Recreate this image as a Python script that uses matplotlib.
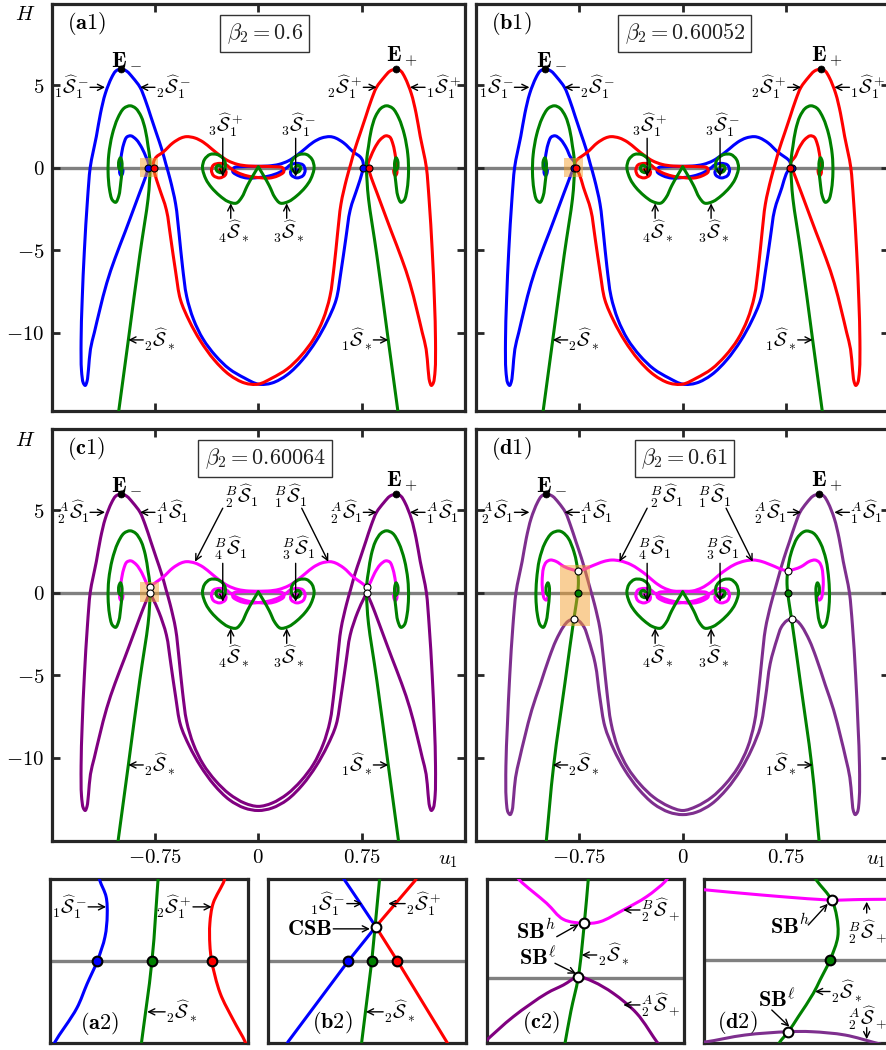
import matplotlib
matplotlib.use("Agg")
import matplotlib.pyplot as plt
from matplotlib.patches import Rectangle, PathPatch
from matplotlib.path import Path

plt.rcParams['mathtext.fontset'] = 'cm'
plt.rcParams['font.family'] = ['DejaVu Serif']

# ---------------- colours ----------------
BLUE, RED, GREEN = '#0000FF', '#FF0000', '#008000'
PURPLE_C, PURPLE_D, MAGENTA = '#800080', '#7E2F8E', '#FF00FF'
GRAY, SPINE = '#808080', '#262626'
ORANGE = '#F5A030'

# ---------------- data (u1, H) ----------------
LOBE = [(-1.0, 6.0), (-1.035, 5.85), (-1.065, 5.45), (-1.11, 4.5), (-1.145, 3.3), (-1.175, 1.9),
        (-1.20, 0.9), (-1.22, 0.0), (-1.24, -2.0), (-1.262, -5.0), (-1.278, -8.0), (-1.286, -10.5),
        (-1.283, -12.3), (-1.27, -13.05), (-1.256, -13.2), (-1.243, -12.95), (-1.232, -12.2),
        (-1.218, -11.0), (-1.19, -10.0), (-1.15, -8.6), (-1.10, -7.0), (-1.04, -5.5), (-0.967, -3.9),
        (-0.90, -2.4), (-0.86, -1.5), (-0.835, -0.95)]
ARC = [(-0.815, 0.65), (-0.845, 1.2), (-0.885, 1.7), (-0.925, 1.93), (-0.955, 1.85), (-0.978, 1.4),
       (-0.995, 0.7), (-1.005, 0.0), (-1.005, -0.35), (-0.995, -0.48), (-0.985, -0.35), (-0.982, -0.15)]
DESC = [(-1.0, 6.0), (-0.955, 5.85), (-0.91, 5.45), (-0.858, 4.87), (-0.82, 4.1), (-0.78, 3.1),
        (-0.74, 2.1), (-0.70, 1.1), (-0.67, 0.2), (-0.64, -0.7), (-0.60, -2.2), (-0.575, -4.0),
        (-0.55, -6.0), (-0.52, -7.8), (-0.47, -9.2), (-0.40, -10.4), (-0.31, -11.4), (-0.21, -12.2),
        (-0.1, -12.75)]
VAL_OUT = [(0.1, -13.05), (0.21, -12.55), (0.32, -11.65), (0.42, -10.5), (0.50, -9.3), (0.565, -8.0),
           (0.60, -6.3), (0.635, -4.3), (0.667, -2.56), (0.72, -1.2)]
HUMP_A_TOP = [(0.74, 0.65), (0.69, 0.95), (0.62, 1.5), (0.56, 1.8), (0.52, 1.88), (0.46, 1.8),
              (0.40, 1.55), (0.34, 1.15), (0.28, 0.75), (0.22, 0.42), (0.15, 0.2)]
HUMP_CENTER = [(0.07, 0.1), (-0.03, 0.08), (-0.12, 0.06), (-0.175, 0.0), (-0.185, -0.25), (-0.14, -0.5),
               (-0.08, -0.63), (0.0, -0.6), (0.08, -0.5), (0.15, -0.3), (0.2, -0.05), (0.235, 0.18),
               (0.28, 0.26), (0.325, 0.16), (0.34, -0.15), (0.325, -0.48), (0.28, -0.62), (0.24, -0.45),
               (0.235, -0.22), (0.26, -0.1), (0.285, -0.15)]
J_A_L = [(-0.808, -0.3), (-0.80, 0.0), (-0.797, 0.15), (-0.80, 0.35)]
J_A_R = [(0.752, -0.35), (0.76, 0.0), (0.762, 0.15), (0.758, 0.4)]
J_B_L = [(-0.81, -0.4), (-0.79, 0.0), (-0.782, 0.25), (-0.795, 0.45)]
J_B_R = [(0.75, -0.4), (0.776, 0.0), (0.782, 0.25), (0.77, 0.45)]
JC_L_P = [(-0.805, -0.35), (-0.786, -0.04), (-0.766, -0.35)]
JC_L_M = [(-0.80, 0.45), (-0.786, 0.36), (-0.772, 0.45)]
VALLEY_MIN_A = [(0.0, -13.12)]
VALLEY_MIN_C = [(0.0, -12.95), (0.0, -13.2)]   # inner, outer

GREEN_A = [(-1.025, -15.5), (-0.943, -10.44), (-0.86, -5.3), (-0.80, -1.9), (-0.79, -0.9), (-0.785, 0.0),
           (-0.788, 0.6), (-0.80, 1.3), (-0.82, 2.3), (-0.85, 3.1), (-0.89, 3.6), (-0.93, 3.75),
           (-0.975, 3.6), (-1.02, 3.0), (-1.06, 2.0), (-1.085, 0.8), (-1.09, -0.3), (-1.08, -1.3),
           (-1.06, -1.95), (-1.035, -2.1), (-1.012, -1.7), (-0.998, -0.9), (-0.99, -0.2), (-0.99, 0.35),
           (-1.0, 0.6), (-1.012, 0.4), (-1.012, 0.0), (-1.0, -0.15)]
HEART = [(0.0, 0.05), (-0.04, -0.5), (-0.08, -1.1), (-0.12, -1.8), (-0.16, -2.15), (-0.22, -2.05),
         (-0.28, -1.7), (-0.34, -1.2), (-0.38, -0.7), (-0.405, 0.0), (-0.39, 0.5), (-0.35, 0.8),
         (-0.30, 0.8), (-0.26, 0.6), (-0.24, 0.3), (-0.245, -0.1), (-0.27, -0.3), (-0.30, -0.2),
         (-0.305, 0.05), (-0.285, 0.15), (-0.27, 0.05)]

LOBE_D = [(-0.99, 6.0), (-1.025, 5.85), (-1.055, 5.45), (-1.10, 4.5), (-1.135, 3.3), (-1.165, 1.9),
          (-1.19, 0.9), (-1.21, 0.0), (-1.232, -2.0), (-1.255, -5.0), (-1.272, -8.0), (-1.283, -10.5),
          (-1.281, -12.5), (-1.268, -13.3), (-1.252, -13.45), (-1.238, -13.2), (-1.227, -12.4),
          (-1.213, -11.2), (-1.185, -10.1), (-1.145, -8.7), (-1.095, -7.1), (-1.035, -5.6),
          (-0.967, -3.9)]
JD_L_P = [(-0.92, -2.9), (-0.865, -2.05), (-0.83, -1.72), (-0.79, -1.6), (-0.755, -1.7), (-0.715, -2.1),
          (-0.685, -2.8)]
VAL_OUT_D = [(0.1, -13.3), (0.21, -12.8), (0.32, -11.9), (0.42, -10.75), (0.50, -9.5), (0.565, -8.1),
             (0.60, -6.4), (0.635, -4.3)]
DESC_D = [(-0.99, 6.0), (-0.945, 5.85), (-0.90, 5.45), (-0.851, 4.87), (-0.815, 4.1), (-0.775, 3.1),
          (-0.735, 2.1), (-0.70, 1.1), (-0.67, 0.2), (-0.64, -0.7), (-0.60, -2.2), (-0.575, -4.0),
          (-0.55, -6.0), (-0.52, -7.9), (-0.47, -9.4), (-0.40, -10.6), (-0.31, -11.6), (-0.21, -12.4),
          (-0.1, -12.95)]
VALLEY_MIN_D = [(0.0, -13.2), (0.0, -13.45)]
ARC_D = [(-0.86, 1.58), (-0.92, 1.9), (-0.96, 1.98), (-0.99, 1.85), (-1.01, 1.5), (-1.02, 0.67),
         (-1.015, 0.0), (-1.005, -0.35), (-0.99, -0.45), (-0.98, -0.3), (-0.978, -0.1)]
JD_L_M = [(-0.81, 1.42), (-0.762, 1.33), (-0.715, 1.42)]
HUMP_D_TOP = [(0.67, 1.58), (0.62, 1.75), (0.57, 1.9), (0.514, 1.98), (0.45, 1.92), (0.38, 1.72),
              (0.32, 1.42), (0.26, 1.05), (0.20, 0.62), (0.14, 0.3)]
GREEN_D = [(-0.995, -15.5), (-0.936, -10.44), (-0.855, -5.5), (-0.79, -1.6), (-0.774, -0.74),
           (-0.762, 0.0), (-0.757, 0.52), (-0.758, 0.96), (-0.762, 1.33), (-0.77, 1.8), (-0.79, 2.5),
           (-0.83, 3.3), (-0.87, 3.65), (-0.90, 3.74), (-0.95, 3.6), (-1.0, 3.0), (-1.04, 2.0),
           (-1.06, 0.8), (-1.065, -0.3), (-1.055, -1.3), (-1.035, -1.95), (-1.012, -2.1),
           (-0.99, -1.7), (-0.976, -0.9), (-0.968, -0.2), (-0.968, 0.35), (-0.978, 0.6),
           (-0.99, 0.4), (-0.99, 0.0), (-0.978, -0.15)]

# zoom panels
A2_BLUE = [(-0.8125, -0.27), (-0.8115, -0.246), (-0.8056, -0.144), (-0.8028, -0.07), (-0.8, 0.0),
           (-0.7979, 0.074), (-0.7973, 0.14), (-0.7976, 0.196), (-0.7993, 0.245), (-0.7998, 0.27)]
A2_GREEN = [(-0.7882, -0.27), (-0.7851, 0.0), (-0.7833, 0.27)]
A2_RED = [(-0.7650, 0.27), (-0.7654, 0.245), (-0.7684, 0.176), (-0.7693, 0.115), (-0.7693, 0.05),
          (-0.7688, 0.0), (-0.7665, -0.098), (-0.7629, -0.18), (-0.7597, -0.246), (-0.759, -0.27)]
B2_BLUE = [(-0.8075, -0.27), (-0.8064, -0.246), (-0.79, 0.0), (-0.7825, 0.1046), (-0.7868, 0.177),
           (-0.7909, 0.245), (-0.7925, 0.27)]
B2_RED = [(-0.7705, 0.27), (-0.7718, 0.245), (-0.7825, 0.1046), (-0.7766, 0.0), (-0.7632, -0.246),
          (-0.762, -0.27)]
B2_GREEN = [(-0.7866, -0.27), (-0.7836, 0.0), (-0.7827, 0.1046), (-0.7813, 0.27)]
C2_MAG = [(-0.852, 0.78), (-0.8462, 0.727), (-0.8191, 0.557), (-0.8022, 0.437), (-0.7809, 0.407),
          (-0.765, 0.419), (-0.7413, 0.507), (-0.7176, 0.607), (-0.699, 0.719), (-0.695, 0.76)]
C2_PUR = [(-0.885, -0.5), (-0.88, -0.467), (-0.853, -0.292), (-0.8191, -0.117), (-0.8022, -0.055),
          (-0.787, 0.005), (-0.7718, -0.03), (-0.7515, -0.117), (-0.7277, -0.267), (-0.7074, -0.479),
          (-0.705, -0.5)]
C2_GRN = [(-0.8012, -0.52), (-0.7945, -0.25), (-0.787, 0.005), (-0.7809, 0.407), (-0.7765, 0.77)]
D2_MAG = [(-0.85, 1.57), (-0.8448, 1.556), (-0.8078, 1.444), (-0.7609, 1.333), (-0.7419, 1.344),
          (-0.7244, 1.349), (-0.71, 1.35)]
D2_GRN = [(-0.7735, 1.9), (-0.7709, 1.762), (-0.7609, 1.333), (-0.7575, 0.962), (-0.7568, 0.518),
          (-0.762, 0.0), (-0.7687, -0.444), (-0.7732, -0.74), (-0.7833, -1.26), (-0.79, -1.593),
          (-0.7956, -1.816), (-0.797, -1.9)]
D2_PUR = [(-0.85, -1.83), (-0.8448, -1.816), (-0.8191, -1.667), (-0.79, -1.593), (-0.7743, -1.593),
          (-0.7519, -1.667), (-0.7318, -1.838), (-0.728, -1.87)]

XTICKS = [-0.75, 0, 0.75]
XTICKLABELS = [r'$-0.75$', r'$0$', r'$0.75$']
YTICKS = [-10, -5, 0, 5]
YTICKLABELS = [r'$-10$', r'$-5$', r'$0$', r'$5$']
BETAS = [r'$\beta_2 = 0.6$', r'$\beta_2 = 0.60052$', r'$\beta_2 = 0.60064$', r'$\beta_2 = 0.61$']


def mirror(pts):
    return [(-u, h) for u, h in pts]


def rev(pts):
    return list(reversed(pts))


W, HP = 886, 1050
fig = plt.figure(figsize=(8.86, 10.5), dpi=100)


def add_ax(x0, y0, x1, y1):
    return fig.add_axes([x0 / W, 1 - y1 / HP, (x1 - x0) / W, (y1 - y0) / HP])


def smooth_path(pts, sx, sy):
    """Centripetal Catmull-Rom through the read points, as cubic Bezier path segments."""
    P = [(u * sx, h * sy) for u, h in pts]
    n = len(P)
    verts = [pts[0]]
    codes = [Path.MOVETO]

    def dist(a, b):
        d = ((a[0] - b[0]) ** 2 + (a[1] - b[1]) ** 2) ** 0.25
        return d if d > 1e-9 else 1e-9

    for i in range(n - 1):
        p1, p2 = P[i], P[i + 1]
        d1 = dist(p1, p2)
        if i > 0:
            p0 = P[i - 1]
            d0 = dist(p0, p1)
            m1 = [(p2[k] - p1[k]) + d1 * ((p1[k] - p0[k]) / d0 - (p2[k] - p0[k]) / (d0 + d1)) for k in range(2)]
        else:
            m1 = [p2[k] - p1[k] for k in range(2)]
        if i + 2 < n:
            p3 = P[i + 2]
            d2 = dist(p2, p3)
            m2 = [(p2[k] - p1[k]) + d1 * ((p3[k] - p2[k]) / d2 - (p3[k] - p1[k]) / (d1 + d2)) for k in range(2)]
        else:
            m2 = [p2[k] - p1[k] for k in range(2)]
        c1 = ((p1[0] + m1[0] / 3) / sx, (p1[1] + m1[1] / 3) / sy)
        c2 = ((p2[0] - m2[0] / 3) / sx, (p2[1] - m2[1] / 3) / sy)
        verts += [c1, c2, pts[i + 1]]
        codes += [Path.CURVE4] * 3
    return Path(verts, codes)


def line(ax, pts, c, lw=2.2, z=3, sx=137.8, sy=16.5, smooth=True):
    if smooth:
        ax.add_patch(PathPatch(smooth_path(pts, sx, sy), fill=False, edgecolor=c, lw=lw, zorder=z,
                               capstyle='round', joinstyle='round'))
    else:
        ax.plot([p[0] for p in pts], [p[1] for p in pts], color=c, lw=lw, zorder=z,
                solid_capstyle='round', solid_joinstyle='round')


def dot(ax, u, h, fc, ms=5, z=8, mew=0.8):
    ax.plot([u], [h], 'o', ms=ms, mfc=fc, mec='k', mew=mew, zorder=z)


AP = dict(arrowstyle='->', lw=1.0, color='k', shrinkA=0, shrinkB=0, mutation_scale=11)
FS = 14


def arrow(ax, tip, start):
    ax.annotate('', xy=tip, xytext=start, arrowprops=AP, zorder=9)


def hlabel(ax, text, tip, start, fs=FS):
    arrow(ax, tip, start)
    if start[0] < tip[0]:
        ax.text(start[0] - 0.004 * (1 if abs(start[0]) > 0.9 or True else 1), start[1], text,
                ha='right', va='center', fontsize=fs, zorder=9)
    else:
        ax.text(start[0] + 0.004, start[1], text, ha='left', va='center', fontsize=fs, zorder=9)


def hlabel_z(ax, text, tip, start, gap, fs=FS):
    arrow(ax, tip, start)
    if start[0] < tip[0]:
        ax.text(start[0] - gap, start[1], text, ha='right', va='center', fontsize=fs, zorder=9)
    else:
        ax.text(start[0] + gap, start[1], text, ha='left', va='center', fontsize=fs, zorder=9)


def style_spines(ax):
    for s in ax.spines.values():
        s.set_linewidth(2.3)
        s.set_color(SPINE)


def setup_main(ax, ylim, show_y, show_x):
    ax.set_xlim(-1.5, 1.5)
    ax.set_ylim(*ylim)
    ax.axhline(0, color=GRAY, lw=2.4, zorder=1)
    ax.set_xticks(XTICKS)
    ax.set_yticks(YTICKS)
    ax.set_xticklabels(XTICKLABELS if show_x else [])
    ax.set_yticklabels(YTICKLABELS if show_y else [])
    ax.tick_params(direction='in', length=6, width=2, top=True, right=True, color=SPINE,
                   labelsize=15, pad=5)
    style_spines(ax)


def setup_zoom(ax, xlim, ylim):
    ax.set_xlim(*xlim)
    ax.set_ylim(*ylim)
    ax.set_xticks([])
    ax.set_yticks([])
    style_spines(ax)


S = r'\widehat{\mathcal{S}}'


def common_labels(ax, left_E, right_E, labs, beta, tag, bx):
    ax.text(-0.953, 6.65, r'$\mathbf{E}_-$', ha='center', va='center', fontsize=16, zorder=9)
    ax.text(1.043, 6.65, r'$\mathbf{E}_+$', ha='center', va='center', fontsize=16, zorder=9)
    dot(ax, left_E[0], left_E[1], 'k', ms=5, mew=0.5)
    dot(ax, right_E[0], right_E[1], 'k', ms=5, mew=0.5)
    hlabel(ax, labs[0], (-1.112, 4.87), (-1.221, 4.87))
    hlabel(ax, labs[1], (-0.858, 4.87), (-0.75, 4.87))
    hlabel(ax, labs[2], (0.859, 4.87), (0.762, 4.87))
    hlabel(ax, labs[3], (1.10, 4.87), (1.21, 4.87))
    hlabel(ax, r'${}_2' + S + r'_*$', (-0.943, -10.44), (-0.835, -10.44))
    hlabel(ax, r'${}_1' + S + r'_*$', (0.943, -10.44), (0.835, -10.44))
    arrow(ax, (-0.2, -2.16), (-0.2, -3.07))
    ax.text(-0.18, -3.9, r'${}_4' + S + r'_*$', ha='center', va='center', fontsize=FS)
    arrow(ax, (0.206, -2.16), (0.206, -3.07))
    ax.text(0.225, -3.9, r'${}_3' + S + r'_*$', ha='center', va='center', fontsize=FS)
    ax.text(bx, 8.15, beta, ha='center', va='center', fontsize=16, color='#222222',
            bbox=dict(boxstyle='square,pad=0.28', fc='white', ec='#333333', lw=1.0), zorder=9)
    ax.text(-1.39, 8.75, tag, ha='left', va='center', fontsize=16, zorder=9)


def rect(ax, u0, u1, h0, h1):
    ax.add_patch(Rectangle((u0, h0), u1 - u0, h1 - h0, facecolor=ORANGE, edgecolor='none',
                           alpha=0.5, zorder=6))


# ================= (a1) and (b1) =================
for k, (x0, x1, jl, jr) in enumerate([(51.6, 465.0, J_A_L, J_A_R), (476.0, 889.4, J_B_L, J_B_R)]):
    ax = add_ax(x0, 4, x1, 410.7)
    setup_main(ax, (-14.73, 9.92), show_y=(k == 0), show_x=False)
    blue1 = LOBE + jl + ARC
    blue2 = DESC + VALLEY_MIN_A + VAL_OUT + jr + HUMP_A_TOP + HUMP_CENTER
    line(ax, blue1, BLUE)
    line(ax, blue2, BLUE)
    line(ax, mirror(blue1), RED)
    line(ax, mirror(blue2), RED)
    for g in (GREEN_A, mirror(GREEN_A), HEART, mirror(HEART)):
        line(ax, g, GREEN)
    rect(ax, -0.858, -0.725, -0.55, 0.6)
    if k == 0:
        dot(ax, -0.80, 0, BLUE); dot(ax, -0.76, 0, RED)
        dot(ax, 0.76, 0, BLUE); dot(ax, 0.80, 0, RED)
    else:
        dot(ax, -0.79, 0, BLUE); dot(ax, -0.776, 0, RED)
        dot(ax, 0.79, 0, BLUE); dot(ax, 0.776, 0, RED)
    labs = [r'${}_1' + S + r'_1^-$', r'${}_2' + S + r'_1^-$', r'${}_2' + S + r'_1^+$',
            r'${}_1' + S + r'_1^+$']
    common_labels(ax, (-1.0, 6.0), (1.0, 6.0), labs, BETAS[k],
                  [r'$\mathbf{(a1)}$', r'$\mathbf{(b1)}$'][k], [0.046, 0.016][k])
    arrow(ax, (-0.258, -0.545), (-0.258, 1.78))
    ax.text(-0.235, 2.6, r'${}_3' + S + r'_1^+$', ha='center', va='center', fontsize=FS)
    arrow(ax, (0.271, -0.545), (0.271, 1.78))
    ax.text(0.29, 2.6, r'${}_3' + S + r'_1^-$', ha='center', va='center', fontsize=FS)

# ================= (c1) and (d1) =================
for k in range(2):
    x0, x1 = [(51.6, 465.0), (476.0, 889.4)][k]
    ax = add_ax(x0, 429, x1, 840.7)
    setup_main(ax, (-15.03, 9.92), show_y=(k == 0), show_x=True)
    if k == 0:
        purp = PURPLE_C
        outer = (LOBE + JC_L_P + rev(mirror(VAL_OUT)) + VALLEY_MIN_C[1:] + VAL_OUT +
                 rev(mirror(JC_L_P)) + rev(mirror(LOBE)))
        inner = DESC + VALLEY_MIN_C[:1] + rev(mirror(DESC))
        magL = rev(ARC) + JC_L_M + mirror(HUMP_A_TOP) + mirror(HUMP_CENTER)
        green = GREEN_A
    else:
        purp = PURPLE_D
        outer = (LOBE_D + JD_L_P + rev(mirror(VAL_OUT_D)) + VALLEY_MIN_D[1:] + VAL_OUT_D +
                 rev(mirror(JD_L_P)) + rev(mirror(LOBE_D)))
        inner = DESC_D + VALLEY_MIN_D[:1] + rev(mirror(DESC_D))
        magL = rev(ARC_D) + JD_L_M + mirror(HUMP_D_TOP) + mirror(HUMP_CENTER)
        green = GREEN_D
    line(ax, outer, purp)
    line(ax, inner, purp)
    line(ax, magL, MAGENTA)
    line(ax, mirror(magL), MAGENTA)
    for g in (green, mirror(green), HEART, mirror(HEART)):
        line(ax, g, GREEN)
    if k == 0:
        rect(ax, -0.858, -0.72, -0.58, 0.65)
        for s in (-1, 1):
            dot(ax, s * 0.786, 0.36, 'white', ms=5)
            dot(ax, s * 0.786, -0.04, 'white', ms=5)
    else:
        rect(ax, -0.888, -0.67, -2.02, 1.68)
        for s in (-1, 1):
            dot(ax, s * 0.762, 1.33, 'white', ms=5)
            dot(ax, s * 0.762, 0.0, GREEN, ms=5)
            dot(ax, s * 0.79, -1.6, 'white', ms=5)
    E = [(-1.0, 6.0), (-0.99, 6.0)][k]
    labs = [r'${}^A_2' + S + r'_1$', r'${}^A_1' + S + r'_1$', r'${}^A_2' + S + r'_1$',
            r'${}^A_1' + S + r'_1$']
    common_labels(ax, E, (-E[0], 6.0), labs, BETAS[2 + k],
                  [r'$\mathbf{(c1)}$', r'$\mathbf{(d1)}$'][k], [0.05, 0.015][k])
    ax.text(-0.12, 5.83, r'${}^B_2' + S + r'_1$', ha='center', va='center', fontsize=FS)
    arrow(ax, (-0.459, 1.88), (-0.258, 5.12))
    ax.text(0.23, 5.83, r'${}^B_1' + S + r'_1$', ha='center', va='center', fontsize=FS)
    arrow(ax, (0.508, 1.88), (0.315, 5.12))
    ax.text(-0.205, 2.7, r'${}^B_4' + S + r'_1$', ha='center', va='center', fontsize=FS)
    arrow(ax, (-0.258, -0.55), (-0.258, 1.78))
    ax.text(0.29, 2.7, r'${}^B_3' + S + r'_1$', ha='center', va='center', fontsize=FS)
    arrow(ax, (0.271, -0.55), (0.271, 1.78))

fig.text(25 / W, 1 - 15 / HP, r'$H$', ha='center', va='center', fontsize=15)
fig.text(25 / W, 1 - 440 / HP, r'$H$', ha='center', va='center', fontsize=15)
fig.text(448 / W, 1 - 860 / HP, r'$u_1$', ha='center', va='center', fontsize=15)
fig.text(876 / W, 1 - 860 / HP, r'$u_1$', ha='center', va='center', fontsize=15)

# ================= zoom panels =================
# (a2)
ax = add_ax(50, 879, 248, 1043)
setup_zoom(ax, (-0.8129, -0.7589), (-0.25, 0.25))
ax.axhline(0, color=GRAY, lw=2.4, zorder=1)
for pts, c in ((A2_BLUE, BLUE), (A2_GREEN, GREEN), (A2_RED, RED)):
    line(ax, pts, c, sx=3667, sy=328)
dot(ax, -0.800, 0, BLUE, ms=7, mew=1.5); dot(ax, -0.7851, 0, GREEN, ms=7, mew=1.5)
dot(ax, -0.7688, 0, RED, ms=7, mew=1.5)
hlabel_z(ax, r'${}_1' + S + r'_1^-$', (-0.7976, 0.165), (-0.8025, 0.165), 0.0003)
hlabel_z(ax, r'${}_2' + S + r'_1^+$', (-0.7688, 0.165), (-0.7739, 0.165), 0.0003)
hlabel_z(ax, r'${}_2' + S + r'_*$', (-0.7864, -0.155), (-0.7815, -0.155), 0.0003)
ax.text(-0.7993, -0.19, r'$\mathbf{(a2)}$', ha='center', va='center', fontsize=16)

# (b2)
ax = add_ax(268.3, 879, 465.7, 1043)
setup_zoom(ax, (-0.8118, -0.7580), (-0.25, 0.25))
ax.axhline(0, color=GRAY, lw=2.4, zorder=1)
for pts, c in ((B2_BLUE, BLUE), (B2_RED, RED), (B2_GREEN, GREEN)):
    line(ax, pts, c, smooth=False)
dot(ax, -0.79, 0, BLUE, ms=7, mew=1.5); dot(ax, -0.7836, 0, GREEN, ms=7, mew=1.5)
dot(ax, -0.7766, 0, RED, ms=7, mew=1.5)
dot(ax, -0.7825, 0.1046, 'white', ms=7, mew=1.5)
hlabel_z(ax, r'${}_1' + S + r'_1^-$', (-0.7862, 0.175), (-0.7904, 0.175), 0.0003)
hlabel_z(ax, r'${}_2' + S + r'_1^+$', (-0.7791, 0.175), (-0.7745, 0.175), 0.0003)
hlabel_z(ax, r'$\mathbf{CSB}$', (-0.7841, 0.098), (-0.7941, 0.098), 0.0002, fs=16)
hlabel_z(ax, r'${}_2' + S + r'_*$', (-0.7852, -0.155), (-0.7805, -0.155), 0.0003)
ax.text(-0.7943, -0.186, r'$\mathbf{(b2)}$', ha='center', va='center', fontsize=16)

# (c2)
ax = add_ax(486.7, 879, 684.0, 1043)
setup_zoom(ax, (-0.88, -0.6797), (-0.489, 0.739))
ax.axhline(0, color=GRAY, lw=2.4, zorder=1)
for pts, c in ((C2_MAG, MAGENTA), (C2_PUR, PURPLE_C), (C2_GRN, GREEN)):
    line(ax, pts, c, sx=985, sy=133.5)
dot(ax, -0.7809, 0.407, 'white', ms=7, mew=1.5)
dot(ax, -0.787, 0.005, 'white', ms=7, mew=1.5)
ax.text(-0.8095, 0.345, r'$\mathbf{SB}^h$', ha='right', va='center', fontsize=16)
arrow(ax, (-0.7865, 0.40), (-0.8089, 0.307))
ax.text(-0.8095, 0.148, r'$\mathbf{SB}^\ell$', ha='right', va='center', fontsize=16)
arrow(ax, (-0.7893, 0.03), (-0.8107, 0.108))
hlabel_z(ax, r'${}_2' + S + r'_*$', (-0.7836, 0.17), (-0.7683, 0.17), 0.001)
hlabel_z(ax, r'${}^B_2' + S + r'_+$', (-0.7413, 0.507), (-0.7244, 0.507), 0.001)
hlabel_z(ax, r'${}^A_2' + S + r'_+$', (-0.7413, -0.204), (-0.7244, -0.204), 0.001)
ax.text(-0.8251, -0.332, r'$\mathbf{(c2)}$', ha='center', va='center', fontsize=16)

# (d2)
ax = add_ax(704.3, 879, 901.7, 1043)
setup_zoom(ax, (-0.8464, -0.7139), (-1.844, 1.8))
ax.axhline(0, color=GRAY, lw=2.4, zorder=1)
for pts, c in ((D2_MAG, MAGENTA), (D2_PUR, PURPLE_D), (D2_GRN, GREEN)):
    line(ax, pts, c, sx=1490, sy=45)
dot(ax, -0.7609, 1.333, 'white', ms=7, mew=1.5)
dot(ax, -0.762, 0.0, GREEN, ms=7, mew=1.5)
dot(ax, -0.79, -1.593, 'white', ms=7, mew=1.5)
ax.text(-0.7754, 0.74, r'$\mathbf{SB}^h$', ha='right', va='center', fontsize=16)
arrow(ax, (-0.7635, 1.25), (-0.7766, 0.778))
ax.text(-0.7855, -0.889, r'$\mathbf{SB}^\ell$', ha='right', va='center', fontsize=16)
arrow(ax, (-0.7893, -1.482), (-0.8011, -1.111))
hlabel_z(ax, r'${}_2' + S + r'_*$', (-0.7721, -0.70), (-0.762, -0.70), 0.0007)
ax.text(-0.7497, 0.63, r'${}^B_2' + S + r'_+$', ha='left', va='center', fontsize=FS)
arrow(ax, (-0.7374, 1.296), (-0.7374, 1.044))
ax.text(-0.7497, -1.28, r'${}^A_2' + S + r'_+$', ha='left', va='center', fontsize=FS)
arrow(ax, (-0.7374, -1.76), (-0.7374, -1.50))
ax.text(-0.8241, -1.378, r'$\mathbf{(d2)}$', ha='center', va='center', fontsize=16)

fig.savefig('out.png', dpi=100)
